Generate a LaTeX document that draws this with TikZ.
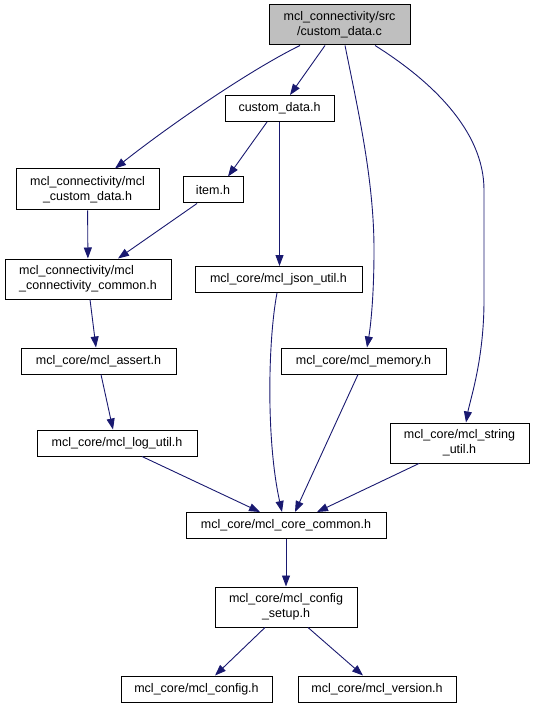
\documentclass[tikz,border=0pt]{standalone}
\usepackage{fontspec}
\setmainfont{Liberation Sans}
\usepackage{xcolor}
\usetikzlibrary{arrows.meta}
\definecolor{edgeblue}{HTML}{191970}
\definecolor{rootgray}{HTML}{BFBFBF}

\begin{document}
\begin{tikzpicture}[x=1pt,y=-1pt,
  hfile/.style={draw, line width=1pt, fill=white, inner sep=0pt, minimum height=26pt, align=center, font=\fontsize{12.5}{15}\selectfont},
  rootfile/.style={hfile, fill=rootgray},
  dep/.style={-{Triangle[length=11pt,width=8pt]}, color=edgeblue, line width=0.9pt}]
\useasboundingbox (0,0) rectangle (535,708);
% files
\node[rootfile, minimum width=141pt, minimum height=40pt] (src) at (339.5,25) {mcl\_connectivity/src\\/custom\_data.c};
\node[hfile, minimum width=109pt] (cdh) at (279.5,108.5) {custom\_data.h};
\node[hfile, minimum width=143pt, minimum height=41pt] (mcd) at (87.5,189.5) {mcl\_connectivity/mcl\\\_custom\_data.h};
\node[hfile, minimum width=60pt] (item) at (213,190) {item.h};
\node[hfile, minimum width=166pt, minimum height=40pt, align=left] (conn) at (88,279) {mcl\_connectivity/mcl\\\_connectivity\_common.h};
\node[hfile, minimum width=167pt] (json) at (278.5,279.5) {mcl\_core/mcl\_json\_util.h};
\node[hfile, minimum width=155pt] (assert) at (98.5,361) {mcl\_core/mcl\_assert.h};
\node[hfile, minimum width=165pt] (memory) at (363.5,361) {mcl\_core/mcl\_memory.h};
\node[hfile, minimum width=160pt] (log) at (117,443) {mcl\_core/mcl\_log\_util.h};
\node[hfile, minimum width=139pt, minimum height=40pt] (string) at (459.5,443) {mcl\_core/mcl\_string\\\_util.h};
\node[hfile, minimum width=200pt] (core) at (286,525.5) {mcl\_core/mcl\_core\_common.h};
\node[hfile, minimum width=142pt, minimum height=40pt] (setup) at (286,607) {mcl\_core/mcl\_config\\\_setup.h};
\node[hfile, minimum width=151pt] (config) at (196.5,689) {mcl\_core/mcl\_config.h};
\node[hfile, minimum width=158pt] (version) at (377,689) {mcl\_core/mcl\_version.h};
% includes
\draw[dep] ([xshift=-39.5pt]src.south) .. controls (250,70) and (170,125) .. ([xshift=27.5pt]mcd.north);
\draw[dep] ([xshift=-14.5pt]src.south) -- ([xshift=10.5pt]cdh.north);
\draw[dep] ([xshift=5.5pt]src.south) .. controls (358,110) and (374,180) .. (374,250) .. controls (374,300) and (370,330) .. ([xshift=3.5pt]memory.north);
\draw[dep] ([xshift=35.5pt]src.south) .. controls (430,80) and (484,130) .. (484,190) -- (484,300) .. controls (484,360) and (470,400) .. ([xshift=6.5pt]string.north);
\draw[dep] ([xshift=-12.5pt]cdh.south) -- ([xshift=15pt]item.north);
\draw[dep] (cdh.south) -- (cdh.south |- json.north);
\draw[dep] (mcd) -- (conn);
\draw[dep] ([xshift=-16pt]item.south) -- ([xshift=30pt]conn.north);
\draw[dep] ([xshift=2pt]conn.south) -- ([xshift=-2.5pt]assert.north);
\draw[dep] ([xshift=2.5pt]assert.south) -- ([xshift=-4pt]log.north);
\draw[dep] ([xshift=25pt]log.south) -- ([xshift=-26pt]core.north);
\draw[dep] ([xshift=-1.5pt]json.south) .. controls (268,340) and (266,440) .. ([xshift=-4pt]core.north);
\draw[dep] ([xshift=-5.5pt]memory.south) -- ([xshift=9pt]core.north);
\draw[dep] ([xshift=-40.5pt]string.south) -- ([xshift=31pt]core.north);
\draw[dep] (core) -- (setup);
\draw[dep] ([xshift=-21pt]setup.south) -- ([xshift=18.5pt]config.north);
\draw[dep] ([xshift=22pt]setup.south) -- ([xshift=-14pt]version.north);
\end{tikzpicture}
\end{document}
